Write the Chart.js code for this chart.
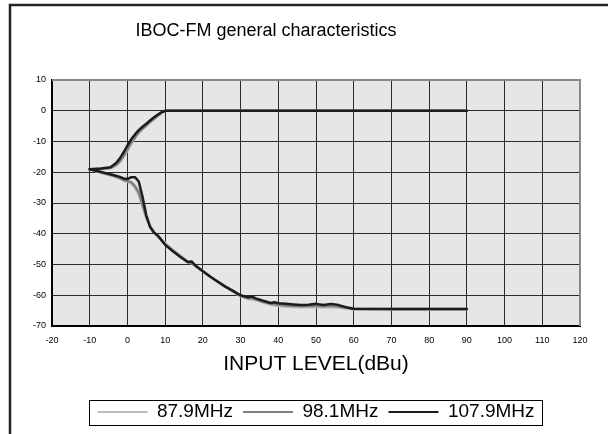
<!DOCTYPE html>
<html>
<head>
<meta charset="utf-8">
<script src="https://cdn.jsdelivr.net/npm/chart.js@4.4.1/dist/chart.umd.min.js"></script>
<style>
  html, body { margin: 0; padding: 0; background: #fff; overflow: hidden; }
  #wrap { width: 608px; height: 434px; }
</style>
</head>
<body>
<div id="wrap"><canvas id="ibocChart" width="608" height="434"></canvas></div>
<script>
const chartTitle = "IBOC-FM general characteristics";
const xAxisTitle = "INPUT LEVEL(dBu)";
const seriesNames = ["87.9MHz", "98.1MHz", "107.9MHz"];
const seriesColors = ["#bdbdbd", "#808080", "#1c1c1c"];
const xTickValues = [-20, -10, 0, 10, 20, 30, 40, 50, 60, 70, 80, 90, 100, 110, 120];
const yTickValues = [-70, -60, -50, -40, -30, -20, -10, 0, 10];

// upper curve
const upperLevels = [-10, -7, -4.5, -3, -2, -1, 0, 1, 2, 3, 4, 5, 6, 7, 8, 9, 10, 90];
const upper879 = [-19.1, -19, -18.7, -17.9, -16.8, -15, -13, -10.8, -8.9, -7.2, -6, -4.9, -3.8, -2.8, -1.8, -0.8, 0, 0];
const upper981 = [-19, -18.9, -18.6, -17.6, -16.4, -14.6, -12.6, -10.4, -8.6, -7, -5.8, -4.7, -3.6, -2.6, -1.6, -0.7, 0, 0];
const upper1079 = [-19, -18.8, -18.4, -17, -15.5, -13.5, -11.3, -9.3, -7.7, -6.3, -5.2, -4.2, -3.2, -2.2, -1.3, -0.5, 0, 0];

// lower curve
const lowerLevels = [-10, -8, -6, -4, -2, -1, 0, 1, 2, 3, 4, 5, 6, 7, 8, 10, 12, 14, 16, 17, 18, 20, 22, 24, 26, 28, 30, 32, 33, 34, 36, 38, 39, 40, 42, 44, 46, 48, 50, 52, 54, 56, 58, 60, 70, 80, 90];
const lower879 = [-19.1, -19.8, -20.5, -21.2, -22.1, -22.7, -23.1, -23.6, -25, -27.3, -31.3, -35, -37.6, -39.3, -40.6, -43, -45.1, -47, -48.9, -49.4, -50.3, -52.1, -54, -55.7, -57.3, -58.8, -60.3, -61.2, -61.3, -61.6, -62.4, -63.1, -63.3, -63.4, -63.7, -63.8, -63.9, -63.9, -63.9, -64, -63.9, -64.1, -64.3, -64.6, -64.6, -64.6, -64.6];
const lower981 = [-19, -19.7, -20.4, -21, -21.9, -22.5, -22.9, -23.2, -24.5, -26.5, -30.5, -34.5, -37.5, -39.5, -40.8, -43.5, -45.6, -47.5, -49.3, -49.6, -50.4, -52.2, -54, -55.7, -57.3, -58.7, -60.2, -61, -61, -61.3, -62.1, -62.8, -62.9, -63.1, -63.3, -63.5, -63.6, -63.5, -63.4, -63.6, -63.4, -63.7, -64.1, -64.5, -64.5, -64.5, -64.5];
const lower1079 = [-19, -19.6, -20.2, -20.8, -21.5, -22, -22.2, -21.6, -21.6, -23, -28, -34, -37.8, -39.6, -40.5, -43.6, -45.6, -47.5, -49.2, -49, -50.3, -52.2, -54, -55.6, -57.2, -58.6, -60, -60.7, -60.4, -61, -61.8, -62.5, -62.3, -62.6, -62.8, -63, -63.2, -63.1, -62.8, -63.2, -62.8, -63.2, -63.9, -64.4, -64.5, -64.5, -64.5];

const upperSeries = [upper879, upper981, upper1079];
const lowerSeries = [lower879, lower981, lower1079];

function toPoints(levels, values) {
  return levels.map((x, i) => ({ x: x, y: values[i] }));
}

const datasets = [];
upperSeries.forEach((values, i) => {
  datasets.push({
    label: seriesNames[i],
    data: toPoints(upperLevels, values),
    borderColor: seriesColors[i],
    backgroundColor: seriesColors[i],
    order: 3 - i
  });
});
lowerSeries.forEach((values, i) => {
  datasets.push({
    label: seriesNames[i] + " ",
    data: toPoints(lowerLevels, values),
    borderColor: seriesColors[i],
    backgroundColor: seriesColors[i],
    order: 3 - i
  });
});

const framePlugin = {
  id: "frame",
  beforeDraw(chart) {
    const { ctx, chartArea: a } = chart;
    ctx.save();
    ctx.fillStyle = "#e6e6e6";
    ctx.fillRect(a.left, a.top, a.right - a.left, a.bottom - a.top);
    ctx.restore();
  },
  beforeDatasetsDraw(chart) {
    const { ctx, chartArea: a } = chart;
    ctx.save();
    ctx.strokeStyle = "#8a8a8a";
    ctx.lineWidth = 2;
    ctx.beginPath();
    ctx.moveTo(a.left, a.top);
    ctx.lineTo(a.right, a.top);
    ctx.lineTo(a.right, a.bottom);
    ctx.stroke();
    ctx.restore();
  },
  afterDraw(chart) {
    const ctx = chart.ctx;
    ctx.save();
    // outer frame
    ctx.strokeStyle = "#222";
    ctx.lineWidth = 2.5;
    ctx.beginPath();
    ctx.moveTo(10, 434);
    ctx.lineTo(10, 5);
    ctx.lineTo(608, 5);
    ctx.stroke();
    // title
    ctx.fillStyle = "#000";
    ctx.font = '18px "Liberation Sans", Arial, sans-serif';
    ctx.textAlign = "center";
    ctx.textBaseline = "middle";
    ctx.fillText(chartTitle, 266, 31);
    // legend box
    const hb = chart.legend.legendHitBoxes;
    if (hb && hb.length) {
      const first = hb[0], last = hb[hb.length - 1];
      const midY = first.top + first.height / 2;
      ctx.strokeStyle = "#000";
      ctx.lineWidth = 1;
      ctx.strokeRect(Math.round(first.left - 8) + 0.5, Math.round(midY - 12.5) + 0.5,
        Math.round(last.left + last.width - first.left + 16), 25);
    }
    ctx.restore();
  }
};

const ibocChart = new Chart(document.getElementById("ibocChart"), {
  type: "line",
  data: { datasets: datasets },
  plugins: [framePlugin],
  options: {
    responsive: false,
    animation: false,
    devicePixelRatio: 1,
    layout: { padding: { left: 10, right: 28, top: 80, bottom: 2.5 } },
    elements: {
      point: { radius: 0 },
      line: { borderWidth: 2.5, tension: 0, borderJoinStyle: "round", borderCapStyle: "round" }
    },
    scales: {
      x: {
        type: "linear",
        min: -20,
        max: 120,
        afterBuildTicks: s => { s.ticks = xTickValues.map(v => ({ value: v })); },
        afterFit: s => { s.height = 66.5; },
        grid: { color: "#2a2a2a", lineWidth: 1, drawTicks: false },
        border: { color: "#000", width: 2 },
        ticks: { padding: 9, color: "#000", font: { family: '"Liberation Sans", Arial', size: 9 } },
        title: {
          display: true,
          text: xAxisTitle,
          color: "#000",
          font: { family: '"Liberation Sans", Arial', size: 21 },
          padding: { top: 0, bottom: 16 }
        }
      },
      y: {
        type: "linear",
        min: -70,
        max: 10,
        afterBuildTicks: s => { s.ticks = yTickValues.map(v => ({ value: v })); },
        afterFit: s => { s.width = 42; },
        grid: { color: "#2a2a2a", lineWidth: 1, drawTicks: false },
        border: { color: "#000", width: 2 },
        ticks: { padding: 6, color: "#000", font: { family: '"Liberation Sans", Arial', size: 9 } }
      }
    },
    plugins: {
      title: { display: false },
      tooltip: { enabled: false },
      legend: {
        position: "bottom",
        fullSize: false,
        labels: {
          boxWidth: 50,
          boxHeight: 2,
          padding: 10,
          color: "#000",
          font: { family: '"Liberation Sans", Arial', size: 19 },
          generateLabels: chart => Chart.defaults.plugins.legend.labels.generateLabels(chart)
            .filter(item => item.datasetIndex < 3)
            .sort((a, b) => a.datasetIndex - b.datasetIndex)
            .map(item => Object.assign(item, { lineWidth: 0, fillStyle: seriesColors[item.datasetIndex] }))
        }
      }
    }
  }
});
</script>
</body>
</html>
